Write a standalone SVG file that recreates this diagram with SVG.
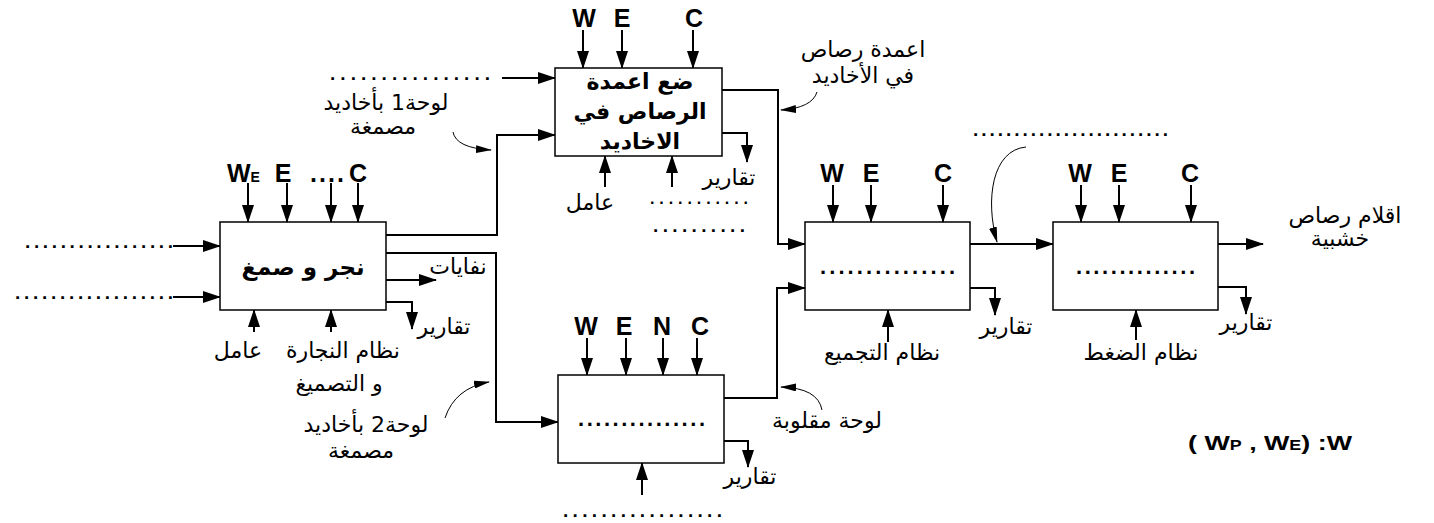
<svg xmlns="http://www.w3.org/2000/svg" width="1434" height="523" viewBox="0 0 1434 523">
<defs>
<marker id="ah" markerWidth="18" markerHeight="12" refX="17" refY="6" orient="auto" markerUnits="userSpaceOnUse"><path d="M0,0 L18,6 L0,12 z" fill="#000"/></marker>
<marker id="ahs" markerWidth="16" markerHeight="8" refX="15" refY="4" orient="auto" markerUnits="userSpaceOnUse"><path d="M0,0 L16,4 L0,8 z" fill="#000"/></marker>
<style>
.box{fill:#fff;stroke:#000;stroke-width:1.5}
.ln{fill:none;stroke:#000;stroke-width:2;marker-end:url(#ah)}
.cv{fill:none;stroke:#000;stroke-width:1;marker-end:url(#ahs)}
.lat{font-family:"Liberation Sans",Arial,sans-serif;font-weight:bold;font-size:25px;text-anchor:middle}
.ar{font-family:"DejaVu Sans",sans-serif;font-size:22px;text-anchor:middle}
.arb{font-family:"DejaVu Sans",sans-serif;font-weight:bold;font-size:22px;text-anchor:middle}
.dot{font-family:"Liberation Sans",sans-serif;font-weight:bold;font-size:19px}
.dotb{font-family:"Liberation Sans",sans-serif;font-weight:bold;font-size:22px}
</style>
</defs>
<rect width="1434" height="523" fill="#fff"/>

<g id="connectors">
  <path class="ln" d="M173,246 L220,246"/>
  <path class="ln" d="M173,297 L220,297"/>
  <path class="ln" d="M248,183 L248,222"/>
  <path class="ln" d="M287,183 L287,222"/>
  <path class="ln" d="M331,183 L331,222"/>
  <path class="ln" d="M358,183 L358,222"/>
  <path class="ln" d="M254,332 L254,310"/>
  <path class="ln" d="M331,332 L331,310"/>
  <path class="ln" d="M386,235 L497,235 L497,135 L555,135"/>
  <path class="ln" d="M386,253 L496,253 L496,422 L558,422"/>
  <path class="ln" d="M386,280 L436,280"/>
  <path class="ln" d="M386,302 L412,302 L412,329"/>
  <path class="ln" d="M502,78 L555,78"/>
  <path class="ln" d="M583,30 L583,68"/>
  <path class="ln" d="M622,30 L622,68"/>
  <path class="ln" d="M693,30 L693,68"/>
  <path class="ln" d="M605,187 L605,156"/>
  <path class="ln" d="M672,187 L672,156"/>
  <path class="ln" d="M722,133 L747,133 L747,162"/>
  <path class="ln" d="M722,90 L778,90 L778,244 L805,244"/>
  <path class="cv" d="M817,92 Q812,108 781,110"/>
  <path class="cv" d="M453,132 Q456,148 491,150"/>
  <path class="ln" d="M587,338 L587,375"/>
  <path class="ln" d="M626,338 L626,375"/>
  <path class="ln" d="M663,338 L663,375"/>
  <path class="ln" d="M697,338 L697,375"/>
  <path class="ln" d="M642,495 L642,463"/>
  <path class="ln" d="M724,441 L748,441 L748,467"/>
  <path class="ln" d="M724,398 L777,398 L777,288 L805,288"/>
  <path class="cv" d="M445,418 Q455,388 489,382"/>
  <path class="cv" d="M822,410 Q818,388 781,387"/>
  <path class="ln" d="M833,185 L833,222"/>
  <path class="ln" d="M871,185 L871,222"/>
  <path class="ln" d="M943,185 L943,222"/>
  <path class="ln" d="M888,342 L888,310"/>
  <path class="ln" d="M970,288 L995,288 L995,315"/>
  <path class="ln" d="M970,244 L1053,244"/>
  <path class="cv" d="M1026,147 C992,150 985,200 997,242"/>
  <path class="ln" d="M1081,185 L1081,222"/>
  <path class="ln" d="M1119,185 L1119,222"/>
  <path class="ln" d="M1191,185 L1191,222"/>
  <path class="ln" d="M1136,340 L1136,310"/>
  <path class="ln" d="M1218,287 L1246,287 L1246,314"/>
  <path class="ln" d="M1218,244 L1263,244"/>
</g>

<g id="nagr">
  <rect class="box" x="220" y="222" width="166" height="88"/>
  <text class="arb" x="303" y="275" style="font-size:23px">نجر و صمغ</text>
</g>
<g id="wad3">
  <rect class="box" x="555" y="68" width="167" height="88"/>
  <text class="arb" x="640" y="89">ضع اعمدة</text>
  <text class="arb" x="640" y="119">الرصاص في</text>
  <text class="arb" x="640" y="149">الاخاديد</text>
</g>
<g id="step-d">
  <rect class="box" x="558" y="375" width="166" height="88"/>
  <text class="dotb" x="578" y="426" textLength="127" lengthAdjust="spacing">...............</text>
</g>
<g id="tajmi3">
  <rect class="box" x="805" y="222" width="165" height="88"/>
  <text class="dotb" x="820" y="274" textLength="135" lengthAdjust="spacing">...............</text>
</g>
<g id="daght">
  <rect class="box" x="1053" y="222" width="165" height="88"/>
  <text class="dotb" x="1076" y="274" textLength="119" lengthAdjust="spacing">..............</text>
</g>

<g id="labels-a">
  <text class="lat" x="227" y="182" style="text-anchor:start">W<tspan font-size="14">E</tspan></text>
  <text class="lat" x="283" y="182">E</text>
  <text class="lat" x="310" y="182" style="text-anchor:start" textLength="34" lengthAdjust="spacing">....</text>
  <text class="lat" x="358" y="182">C</text>
  <text class="dot" x="25" y="248" textLength="148" lengthAdjust="spacing">.................</text>
  <text class="dot" x="15" y="299" textLength="158" lengthAdjust="spacing">..................</text>
  <text class="ar" x="458" y="274">نفايات</text>
  <text class="ar" x="444" y="334">تقارير</text>
  <text class="ar" x="238" y="358">عامل</text>
  <text class="ar" x="343" y="358">نظام النجارة</text>
  <text class="ar" x="339" y="391">و التصميغ</text>
</g>
<g id="labels-b">
  <text class="lat" x="584" y="27">W</text>
  <text class="lat" x="622" y="27">E</text>
  <text class="lat" x="694" y="27">C</text>
  <text class="dot" x="330" y="80" textLength="160" lengthAdjust="spacing">................</text>
  <text class="ar" x="386" y="110">لوحة1 بأخاديد</text>
  <text class="ar" x="383" y="134">مصمغة</text>
  <text class="ar" x="590" y="210">عامل</text>
  <text class="ar" x="729" y="185">تقارير</text>
  <text class="dot" x="650" y="204" textLength="98" lengthAdjust="spacing" style="font-size:16px">...........</text>
  <text class="dot" x="653" y="232" textLength="92" lengthAdjust="spacing">..........</text>
  <text class="ar" x="863" y="57">اعمدة رصاص</text>
  <text class="ar" x="863" y="83">في الأخاديد</text>
</g>
<g id="labels-d">
  <text class="lat" x="586" y="335">W</text>
  <text class="lat" x="624" y="335">E</text>
  <text class="lat" x="662" y="335">N</text>
  <text class="lat" x="700" y="335">C</text>
  <text class="ar" x="366" y="432">لوحة2 بأخاديد</text>
  <text class="ar" x="361" y="458">مصمغة</text>
  <text class="ar" x="750" y="484">تقارير</text>
  <text class="dot" x="563" y="517" textLength="159" lengthAdjust="spacing">.................</text>
  <text class="ar" x="827" y="428">لوحة مقلوبة</text>
</g>
<g id="labels-c">
  <text class="lat" x="832" y="182">W</text>
  <text class="lat" x="871" y="182">E</text>
  <text class="lat" x="943" y="182">C</text>
  <text class="dot" x="973" y="136" textLength="195" lengthAdjust="spacing">........................</text>
  <text class="ar" x="1006" y="334">تقارير</text>
  <text class="ar" x="882" y="360">نظام التجميع</text>
</g>
<g id="labels-e">
  <text class="lat" x="1080" y="182">W</text>
  <text class="lat" x="1119" y="182">E</text>
  <text class="lat" x="1190" y="182">C</text>
  <text class="ar" x="1246" y="330">تقارير</text>
  <text class="ar" x="1141" y="360">نظام الضغط</text>
  <text class="ar" x="1345" y="223">اقلام رصاص</text>
  <text class="ar" x="1340" y="246">خشبية</text>
  <text class="lat" x="1188" y="450" style="text-anchor:start;font-size:21px" textLength="164" lengthAdjust="spacingAndGlyphs">( W<tspan font-size="14">P</tspan> , W<tspan font-size="14">E</tspan>)  :W</text>
</g>
</svg>
